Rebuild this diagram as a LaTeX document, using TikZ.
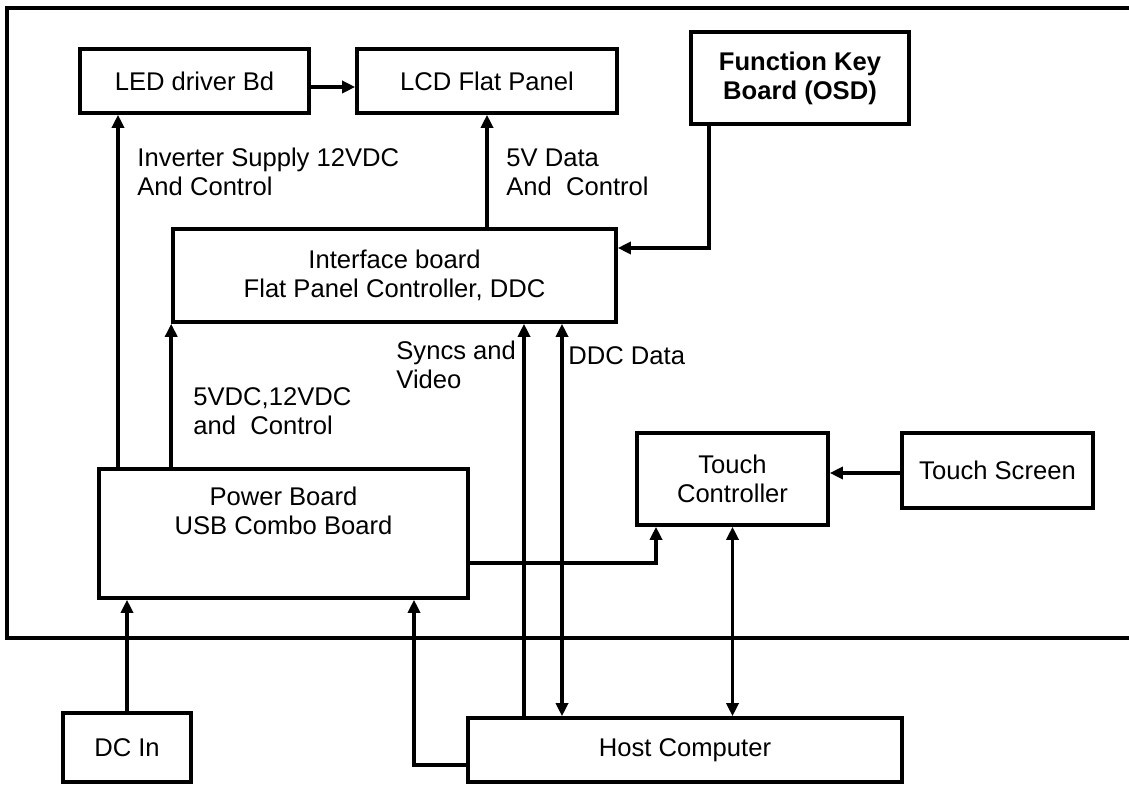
\documentclass[tikz,border=0pt]{standalone}
\usepackage{fontspec}
\setmainfont{Liberation Sans}
\usetikzlibrary{arrows.meta}

\begin{document}
\begin{tikzpicture}[x=0.5pt,y=-0.5pt,
    blk/.style={draw,line width=1.8pt,align=center,inner sep=0pt,font=\fontsize{12.8pt}{14.5pt}\selectfont},
    lbl/.style={align=left,anchor=base west,inner sep=0pt,font=\fontsize{12.8pt}{14.5pt}\selectfont},
    arr/.style={line width=1.8pt,-{Triangle[length=6.5pt,width=6pt]}},
    dbl/.style={line width=1.8pt,{Triangle[length=6.5pt,width=6pt]}-{Triangle[length=6.5pt,width=6pt]}}]
    \def\pxw{0.5pt}
    \useasboundingbox (0,0) rectangle (1129,785);
    % enclosure
    \draw[line width=1.8pt] (1140,8) -- (7,8) -- (7,638) -- (1140,638);
    % boards
    \node[blk,minimum width=229*\pxw,minimum height=64*\pxw] (led) at (194.5,81) {LED driver Bd};
    \node[blk,minimum width=260*\pxw,minimum height=64*\pxw] (lcd) at (487,81) {LCD Flat Panel};
    \node[blk,line width=2.4pt,minimum width=218*\pxw,minimum height=92*\pxw,font=\fontsize{12.8pt}{14.5pt}\selectfont\bfseries] (fk) at (800,78) {Function Key\\Board (OSD)};
    \node[blk,minimum width=443*\pxw,minimum height=93*\pxw] (iface) at (394.5,275.5) {Interface board\\Flat Panel Controller, DDC};
    \node[blk,minimum width=369*\pxw,minimum height=129*\pxw,text depth=23pt] (power) at (283.5,533.5) {Power Board\\USB Combo Board};
    \node[blk,minimum width=191*\pxw,minimum height=92*\pxw] (tc) at (732.5,479) {Touch\\Controller};
    \node[blk,minimum width=191*\pxw,minimum height=75*\pxw] (ts) at (997.5,470.5) {Touch Screen};
    \node[blk,minimum width=128*\pxw,minimum height=69*\pxw] (dcin) at (127,747.5) {DC In};
    \node[blk,minimum width=434*\pxw,minimum height=64*\pxw] (host) at (685,750) {Host Computer};
    % labels (base = last line)
    \node[lbl] (invlbl) at (137,196) {Inverter Supply 12VDC\\And Control};
    \node[lbl] (datalbl) at (506,196) {5V Data\\And\ \ Control};
    \node[lbl] (pwrlbl) at (193,435) {5VDC,12VDC\\and\ \ Control};
    \node[lbl] (synclbl) at (396,389) {Syncs and\\Video};
    \node[lbl] (ddclbl) at (568,365) {DDC Data};
    % connections
    \coordinate (ledx) at (118,0);
    \coordinate (fkx) at (709,248);
    \coordinate (syncx) at (524,0);
    \coordinate (ddcx) at (562,0);
    \coordinate (tcin) at (656,563);
    \coordinate (tsy) at (0,473);
    \coordinate (ledy) at (0,87);
    \coordinate (hostret) at (414,765);
    \draw[arr] (led.east |- ledy) -- (lcd.west |- ledy);
    \draw[arr] (ledx |- power.north) -- (ledx |- led.south);
    \draw[arr] (power.north -| iface.south west) -- (iface.south west);
    \draw[arr] (iface.north -| lcd.south) -- (lcd.south);
    \draw[arr] (fkx |- fk.south) |- (iface.east |- fkx);
    \draw[arr] (syncx |- host.north) -- (syncx |- iface.south);
    \draw[dbl] (ddcx |- host.north) -- (ddcx |- iface.south);
    \draw[arr] (power.east |- tcin) -| (tcin |- tc.south);
    \draw[arr] (ts.west |- tsy) -- (tc.east |- tsy);
    \draw[dbl] (tc.south) -- (tc.south |- host.north);
    \draw[arr] (dcin.north) -- (dcin.north |- power.south);
    \draw[arr] (host.west |- hostret) -| (hostret |- power.south);
\end{tikzpicture}
\end{document}
